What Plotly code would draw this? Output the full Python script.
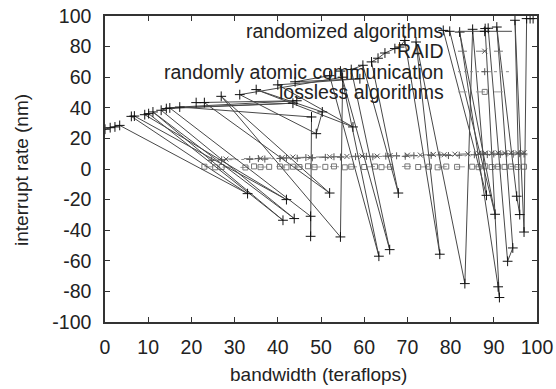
import plotly.graph_objects as go

# ---- data ----
series_names = ["randomized algorithms", "RAID",
                "randomly atomic communication", "lossless algorithms"]

ra_x = [0, 1.2, 2.3, 3.4, 33, 6.1, 6.8, 42, 9.2, 10.1,
        41.2, 11.1, 43.8, 13, 14.2, 43.5, 15, 47.6, 47.6, 47.8,
        17.3, 44.4, 21.1, 23, 52, 26.9, 54.5, 55, 31.2, 48.9,
        50.3, 35, 57.4, 40, 59, 44, 52, 63.4, 54.5, 65.9,
        57, 59.7, 67.9, 61.7, 63.2, 64.8, 67.1, 68.2, 69.4, 77.5,
        72, 83.3, 85.1, 88.3, 78.3, 79.8, 90.3, 82.1, 91, 91.3,
        88, 88.7, 93.2, 94.4, 90.7, 95.3, 96, 94.9, 97, 97.6,
        98.4, 99.1]
ra_y = [26, 27, 27.5, 28.5, -16.1, 34.4, 34.6, -20, 35.5, 36.2,
        -33.5, 37.3, -32.4, 38.4, 39.5, 43, 39.9, -30.9, -44, 34,
        40.5, 44.6, 43.4, 43.4, -15.7, 47.5, -44.4, 60, 48.6, 23.1,
        37.3, 51.9, 27.5, 55, 59, 57, 61, -57, 64, -52.7,
        65, 67.8, -15.7, 70, 72.4, 75.8, 78.7, 79.7, 84, -55.7,
        83, -74.9, 91.3, -17.2, 90.6, 90, -29.6, 89.5, -77, -84,
        91.8, 92, -60.3, -51.6, 92.8, -17.8, -29.8, 97.2, -41.2, 98.3,
        98.3, 98.3]

raid_x = [28.0, 36.0, 41.0, 43.5, 47.5, 52.0, 56.0, 59.5, 63.0, 66.0,
          70.0, 73.0, 76.0, 78.5, 81.0, 84.0, 86.5, 88.0, 89.5, 91.0,
          92.5, 94.0, 95.5, 97.0]
raid_y = [6.5, 7.0, 7.4, 7.8, 7.6, 8.0, 8.2, 8.5, 8.4, 8.8,
          9.0, 9.1, 9.5, 9.3, 9.7, 9.9, 10.2, 10.4, 10.3, 10.5,
          10.4, 10.6, 10.5, 10.6]

atomic_x = [24.6, 27.0, 33.5, 35.5, 37.0, 40.5, 42.0, 44.5, 46.5, 48.0,
            51.0, 53.0, 54.5, 58.0, 60.5, 62.0, 65.0, 67.5, 69.5, 71.5,
            75.5, 77.5, 79.5, 82.0, 85.5, 87.0, 88.5, 90.0, 91.5, 93.0,
            94.5, 96.0, 97.0]
atomic_y = [5.7, 6.0, 6.3, 6.8, 6.5, 6.9, 7.2, 7.0, 7.5, 7.3,
            7.6, 8.0, 7.8, 8.1, 8.3, 8.0, 8.4, 8.6, 8.3, 8.7,
            8.9, 9.2, 8.8, 9.0, 9.3, 9.6, 9.4, 9.8, 9.5, 9.9,
            9.7, 10.0, 9.8]

lossless_x = [23.0, 25.5, 27.0, 32.5, 34.5, 36.0, 38.0, 40.5, 42.0, 43.5,
              45.0, 47.0, 48.5, 51.0, 53.0, 55.5, 57.0, 60.0, 62.5, 64.0,
              66.0, 70.0, 72.5, 75.0, 77.0, 79.0, 81.5, 85.0, 86.5, 88.0,
              89.5, 91.0, 92.5, 94.0, 95.5, 97.0]
lossless_y = [1.5, 1.1, 1.3, 1.0, 1.7, 1.2, 1.4, 1.6, 1.1, 1.5,
              1.3, 1.8, 1.2, 1.4, 1.7, 1.1, 1.5, 1.3, 1.6, 1.2,
              1.4, 1.7, 1.3, 1.5, 1.1, 1.6, 1.4, 1.5, 1.2, 1.7,
              1.3, 1.5, 1.4, 1.6, 1.3, 1.5]

x_ticks = [0, 10, 20, 30, 40, 50, 60, 70, 80, 90, 100]
y_ticks = [-100, -80, -60, -40, -20, 0, 20, 40, 60, 80, 100]

FONT = "Liberation Sans, Arial, sans-serif"
styles = [
    dict(line=dict(color="#484848", width=1),
         marker=dict(symbol="cross-thin", size=7, line=dict(color="#111", width=1))),
    dict(line=dict(color="#777", width=1, dash="dash"),
         marker=dict(symbol="x-thin", size=5, line=dict(color="#555", width=1))),
    dict(line=dict(color="#888", width=1, dash="dot"),
         marker=dict(symbol="cross-thin", size=5, line=dict(color="#555", width=1))),
    dict(line=dict(color="#999", width=1, dash="dash"),
         marker=dict(symbol="square-open", size=5, color="#777", line=dict(width=1))),
]
data = [(ra_x, ra_y), (raid_x, raid_y), (atomic_x, atomic_y), (lossless_x, lossless_y)]

fig = go.Figure()
for i in [3, 2, 1, 0]:
    xs, ys = data[i]
    fig.add_trace(go.Scatter(x=xs, y=ys, mode="lines+markers", name=series_names[i],
                             showlegend=False, **styles[i]))

# gnuplot-style key (text right-aligned, sample to its right)
key_rows = [0.950, 0.885, 0.818, 0.752]
for i, name in enumerate(series_names):
    fig.add_annotation(text=name, xref="paper", yref="paper", x=0.79, y=key_rows[i],
                       xanchor="right", yanchor="middle", showarrow=False,
                       font=dict(family=FONT, size=19.5, color="#222"))
    fig.add_trace(go.Scatter(x=[0.817, 0.942], y=[key_rows[i]] * 2, mode="lines",
                             xaxis="x2", yaxis="y2", showlegend=False,
                             line=styles[i]["line"], hoverinfo="skip"))
    fig.add_trace(go.Scatter(x=[0.879], y=[key_rows[i]], mode="markers",
                             xaxis="x2", yaxis="y2", showlegend=False,
                             marker=styles[i]["marker"], hoverinfo="skip"))

axis_common = dict(showline=True, linecolor="#333", linewidth=1.5, mirror="ticks",
                   ticks="inside", ticklen=5, tickcolor="#333", tickwidth=1,
                   showgrid=False, zeroline=False, automargin=False,
                   tickfont=dict(family=FONT, size=19.5, color="#222"))
fig.update_layout(
    width=556, height=389,
    margin=dict(l=105, r=19, t=16, b=67, autoexpand=False),
    paper_bgcolor="white", plot_bgcolor="white",
    showlegend=False,
    xaxis=dict(range=[0, 100], tickvals=x_ticks, ticktext=[str(v) for v in x_ticks],
               ticklabelstandoff=7, **axis_common),
    yaxis=dict(range=[-100, 100], tickvals=y_ticks, ticktext=[str(v) for v in y_ticks],
               ticklabelstandoff=8, **axis_common),
    xaxis2=dict(overlaying="x", range=[0, 1], visible=False, anchor="y2"),
    yaxis2=dict(overlaying="y", range=[0, 1], visible=False, anchor="x2"),
)
fig.add_annotation(text="bandwidth (teraflops)", xref="paper", yref="paper",
                   x=0.495, y=-0.17, xanchor="center", yanchor="middle", showarrow=False,
                   font=dict(family=FONT, size=19, color="#222"))
fig.add_annotation(text="interrupt rate (nm)", xref="paper", yref="paper",
                   x=-0.192, y=0.497, xanchor="center", yanchor="middle", showarrow=False,
                   textangle=-90, font=dict(family=FONT, size=19, color="#222"))

fig.write_html("out.html")
